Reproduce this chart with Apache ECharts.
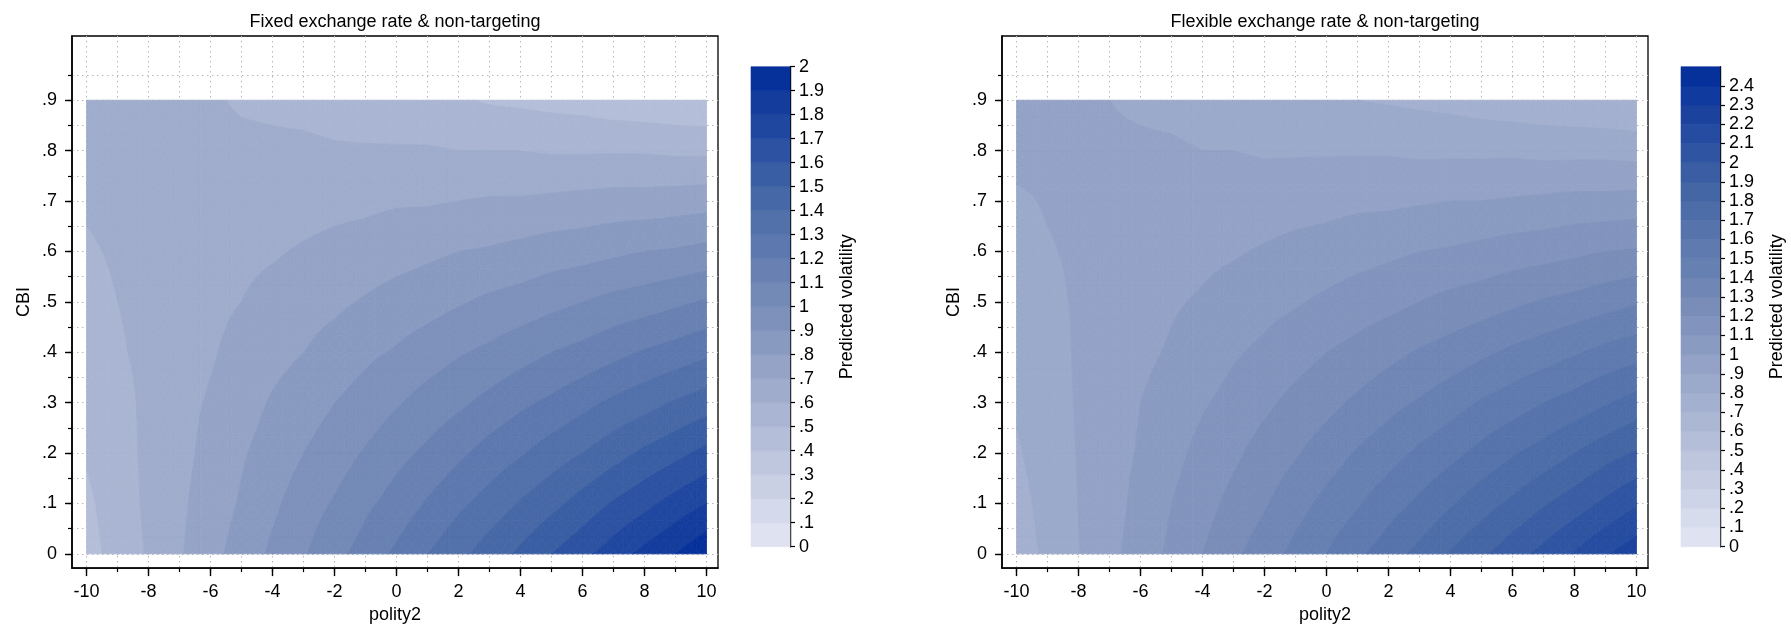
<!DOCTYPE html>
<html>
<head>
<meta charset="utf-8">
<script src="https://cdn.jsdelivr.net/npm/echarts@6/dist/echarts.min.js"></script>
<style>
html,body{margin:0;padding:0;background:#fff;}
#chart{width:1791px;height:629px;}
</style>
</head>
<body>
<div id="chart"></div>
<script>
// ---------------- data ----------------
const polity2 = [-10,-9,-8,-7,-6,-5,-4,-3,-2,-1,0,1,2,3,4,5,6,7,8,9,10];
const cbi = [0,0.1,0.2,0.3,0.4,0.5,0.6,0.7,0.8,0.9];

// rows follow cbi, columns follow polity2
const fixedVolatility = [
  [0.46,0.54,0.61,0.69,0.77,0.84,0.92,0.99,1.07,1.14,1.22,1.30,1.37,1.45,1.52,1.60,1.67,1.75,1.83,1.90,1.98],
  [0.48,0.55,0.62,0.68,0.75,0.81,0.88,0.95,1.01,1.08,1.14,1.21,1.28,1.34,1.41,1.47,1.54,1.61,1.67,1.74,1.80],
  [0.51,0.56,0.62,0.67,0.73,0.79,0.84,0.90,0.95,1.01,1.07,1.12,1.18,1.24,1.29,1.35,1.40,1.46,1.52,1.57,1.63],
  [0.53,0.57,0.62,0.67,0.71,0.76,0.81,0.85,0.90,0.94,0.99,1.04,1.08,1.13,1.18,1.22,1.27,1.32,1.36,1.41,1.45],
  [0.55,0.59,0.62,0.66,0.69,0.73,0.77,0.80,0.84,0.88,0.91,0.95,0.99,1.02,1.06,1.10,1.13,1.17,1.21,1.24,1.28],
  [0.57,0.60,0.62,0.65,0.68,0.70,0.73,0.76,0.78,0.81,0.84,0.86,0.89,0.92,0.94,0.97,1.00,1.03,1.05,1.08,1.11],
  [0.59,0.61,0.63,0.64,0.66,0.68,0.69,0.71,0.73,0.74,0.76,0.78,0.80,0.81,0.83,0.85,0.86,0.88,0.90,0.91,0.93],
  [0.61,0.62,0.63,0.64,0.64,0.65,0.66,0.66,0.67,0.68,0.69,0.69,0.70,0.71,0.71,0.72,0.73,0.74,0.74,0.75,0.76],
  [0.64,0.63,0.63,0.63,0.62,0.62,0.62,0.62,0.61,0.61,0.61,0.61,0.60,0.60,0.60,0.59,0.59,0.59,0.59,0.58,0.58],
  [0.66,0.64,0.63,0.62,0.61,0.59,0.58,0.57,0.56,0.54,0.53,0.52,0.51,0.49,0.48,0.47,0.46,0.44,0.43,0.42,0.41]
];

const flexibleVolatility = [
  [0.75,0.82,0.897,0.97,1.05,1.12,1.20,1.28,1.35,1.43,1.50,1.58,1.65,1.73,1.81,1.88,1.96,2.03,2.11,2.19,2.26],
  [0.77,0.83,0.902,0.96,1.03,1.10,1.16,1.23,1.29,1.36,1.43,1.49,1.56,1.62,1.69,1.76,1.82,1.89,1.95,2.02,2.09],
  [0.79,0.84,0.906,0.96,1.01,1.07,1.13,1.18,1.24,1.29,1.35,1.41,1.46,1.52,1.57,1.63,1.69,1.74,1.80,1.86,1.91],
  [0.81,0.86,0.908,0.95,1.00,1.04,1.09,1.13,1.18,1.23,1.27,1.32,1.37,1.41,1.46,1.51,1.55,1.60,1.64,1.69,1.74],
  [0.83,0.87,0.909,0.94,0.98,1.01,1.05,1.09,1.12,1.16,1.20,1.23,1.27,1.31,1.34,1.38,1.42,1.45,1.49,1.53,1.56],
  [0.85,0.88,0.909,0.93,0.96,0.99,1.01,1.04,1.07,1.09,1.12,1.15,1.17,1.20,1.23,1.25,1.28,1.31,1.33,1.36,1.39],
  [0.88,0.895,0.91,0.93,0.94,0.96,0.98,0.99,1.01,1.03,1.04,1.06,1.08,1.10,1.11,1.13,1.15,1.16,1.18,1.20,1.21],
  [0.89,0.905,0.91,0.92,0.93,0.93,0.94,0.95,0.95,0.96,0.97,0.98,0.98,0.99,1.00,1.00,1.01,1.02,1.03,1.03,1.04],
  [0.92,0.92,0.91,0.91,0.91,0.91,0.90,0.90,0.89,0.89,0.89,0.89,0.89,0.88,0.88,0.88,0.88,0.87,0.87,0.87,0.86],
  [0.94,0.93,0.92,0.90,0.89,0.88,0.87,0.85,0.84,0.83,0.82,0.80,0.79,0.78,0.77,0.75,0.74,0.73,0.72,0.71,0.70]
];

// contour cut levels (legend)
const fixedLevels = [0,0.1,0.2,0.3,0.4,0.5,0.6,0.7,0.8,0.9,1,1.1,1.2,1.3,1.4,1.5,1.6,1.7,1.8,1.9,2];
const flexibleLevels = [0,0.1,0.2,0.3,0.4,0.5,0.6,0.7,0.8,0.9,1,1.1,1.2,1.3,1.4,1.5,1.6,1.7,1.8,1.9,2,2.1,2.2,2.3,2.4,2.5];
const flexibleLegendTicks = [0,0.1,0.2,0.3,0.4,0.5,0.6,0.7,0.8,0.9,1,1.1,1.2,1.3,1.4,1.5,1.6,1.7,1.8,1.9,2,2.1,2.2,2.3,2.4];

// axis ticks
const xMajorTicks = [-10,-8,-6,-4,-2,0,2,4,6,8,10];
const xMinorTicks = [-10,-9,-8,-7,-6,-5,-4,-3,-2,-1,0,1,2,3,4,5,6,7,8,9,10];
const yMajorTicks = [0,0.1,0.2,0.3,0.4,0.5,0.6,0.7,0.8,0.9];
const yMinorTicks = [0,0.05,0.1,0.15,0.2,0.25,0.3,0.35,0.4,0.45,0.5,0.55,0.6,0.65,0.7,0.75,0.8,0.85,0.9,0.95];

const panelTitles = ['Fixed exchange rate & non-targeting', 'Flexible exchange rate & non-targeting'];

// ---------------- styling / helpers ----------------
const FONT = "'Liberation Sans', Arial, Helvetica, sans-serif";
const txt = {fontFamily: FONT, fontSize: 18, color: '#000'};
const ramp = [
  [0,    [223,227,241]],
  [0.25, [172,183,211]],
  [0.5,  [121,141,184]],
  [0.75, [ 68,102,165]],
  [1,    [  6, 49,155]]
];
function rampColor(t) {
  t = Math.max(0, Math.min(1, t));
  for (let i = 1; i < ramp.length; i++) {
    if (t <= ramp[i][0] + 1e-9) {
      const t0 = ramp[i-1][0], c0 = ramp[i-1][1], t1 = ramp[i][0], c1 = ramp[i][1];
      const u = (t - t0) / (t1 - t0);
      return 'rgb(' + c0.map((c, k) => Math.round(c + (c1[k] - c) * u)).join(',') + ')';
    }
  }
  return 'rgb(6,49,155)';
}
function bandColors(n) {
  const out = [];
  for (let k = 0; k < n; k++) out.push(rampColor(n > 1 ? k / (n - 1) : 0));
  return out;
}
function fmt(v) {
  let s = String(+(+v).toFixed(2));
  if (s.indexOf('0.') === 0) s = s.slice(1);
  return s;
}
function clipPoly(poly, lev, above) {
  const out = [];
  const n = poly.length;
  for (let i = 0; i < n; i++) {
    const a = poly[i], b = poly[(i + 1) % n];
    const ia = above ? a[2] >= lev : a[2] <= lev;
    const ib = above ? b[2] >= lev : b[2] <= lev;
    if (ia) out.push(a);
    if (ia !== ib) {
      const t = (lev - a[2]) / (b[2] - a[2]);
      out.push([a[0] + (b[0] - a[0]) * t, a[1] + (b[1] - a[1]) * t, lev]);
    }
  }
  return out;
}

function contourSeries(axisIndex, Z, levels) {
  const nb = levels.length - 1;
  const colors = bandColors(nb);
  function bandOf(v) { let k = 0; while (k < nb - 1 && v >= levels[k + 1]) k++; return k; }
  const cells = [];
  for (let j = 0; j < cbi.length - 1; j++)
    for (let i = 0; i < polity2.length - 1; i++)
      cells.push([(polity2[i] + polity2[i+1]) / 2, (cbi[j] + cbi[j+1]) / 2, i, j]);
  const S = 3;
  return {
    type: 'custom', coordinateSystem: 'cartesian2d',
    xAxisIndex: axisIndex, yAxisIndex: axisIndex,
    encode: {x: 0, y: 1}, silent: true, animation: false, z: 2,
    data: cells,
    renderItem: function (params, api) {
      const i = api.value(2), j = api.value(3);
      const x0 = polity2[i], x1 = polity2[i+1], y0 = cbi[j], y1 = cbi[j+1];
      const v00 = Z[j][i], v10 = Z[j][i+1], v01 = Z[j+1][i], v11 = Z[j+1][i+1];
      const pt = function (u, w) {
        const v = v00*(1-u)*(1-w) + v10*u*(1-w) + v01*(1-u)*w + v11*u*w;
        const c = api.coord([x0 + (x1 - x0) * u, y0 + (y1 - y0) * w]);
        return [c[0], c[1], v];
      };
      const children = [];
      for (let a = 0; a < S; a++) {
        for (let b = 0; b < S; b++) {
          const p00 = pt(a/S, b/S), p10 = pt((a+1)/S, b/S), p11 = pt((a+1)/S, (b+1)/S), p01 = pt(a/S, (b+1)/S);
          const pc = pt((a+0.5)/S, (b+0.5)/S);
          const tris = [[p00,p10,pc],[p10,p11,pc],[p11,p01,pc],[p01,p00,pc]];
          for (const tri of tris) {
            const vmin = Math.min(tri[0][2], tri[1][2], tri[2][2]);
            const vmax = Math.max(tri[0][2], tri[1][2], tri[2][2]);
            const k0 = bandOf(vmin), k1 = bandOf(vmax);
            for (let k = k0; k <= k1; k++) {
              let poly = tri;
              if (k > 0) poly = clipPoly(poly, levels[k], true);
              if (poly.length >= 3 && k < nb - 1) poly = clipPoly(poly, levels[k+1], false);
              if (poly.length >= 3) {
                children.push({
                  type: 'polygon',
                  shape: {points: poly.map(p => [p[0], p[1]])},
                  style: {fill: colors[k], stroke: colors[k], lineWidth: 0.8}
                });
              }
            }
          }
        }
      }
      return {type: 'group', children: children};
    }
  };
}

function colorbarSeries(axisIndex, levels) {
  const nb = levels.length - 1;
  const colors = bandColors(nb);
  const data = [];
  for (let k = 0; k < nb; k++) data.push([0.5, (levels[k] + levels[k+1]) / 2, k]);
  return {
    type: 'custom', coordinateSystem: 'cartesian2d',
    xAxisIndex: axisIndex, yAxisIndex: axisIndex,
    encode: {x: 0, y: 1}, silent: true, animation: false,
    data: data,
    renderItem: function (params, api) {
      const k = api.value(2);
      const a = api.coord([0, levels[k]]), b = api.coord([1, levels[k+1]]);
      return {
        type: 'rect',
        shape: {x: a[0], y: b[1], width: b[0] - a[0], height: a[1] - b[1]},
        style: {fill: colors[k], stroke: colors[k], lineWidth: 0.6}
      };
    }
  };
}

const XMIN = -10.47, XMAX = 10.37, YMIN = -0.0283, YMAX = 1.0273;
const gridLine = {show: true, lineStyle: {color: '#b8b8b8', width: 1, type: [1.5, 3.5]}};

function plotXAxes(gi) {
  return [
    {type: 'value', gridIndex: gi, min: XMIN, max: XMAX, position: 'bottom',
     axisLine: {show: true, onZero: false, lineStyle: {color: '#000', width: 1.6}},
     axisTick: {show: true, customValues: xMajorTicks, length: 8, lineStyle: {color: '#000', width: 1.4}},
     axisLabel: Object.assign({show: true, customValues: xMajorTicks, margin: 15}, txt),
     splitLine: {show: false},
     name: 'polity2', nameLocation: 'middle', nameGap: 33, nameTextStyle: txt},
    {type: 'value', gridIndex: gi, min: XMIN, max: XMAX, position: 'bottom',
     axisLine: {show: false, onZero: false},
     axisTick: {show: true, customValues: xMinorTicks, length: 4, lineStyle: {color: '#000', width: 1.2}},
     axisLabel: {show: false},
     splitLine: gridLine}
  ];
}
function plotYAxes(gi) {
  return [
    {type: 'value', gridIndex: gi, min: YMIN, max: YMAX, position: 'left',
     axisLine: {show: true, onZero: false, lineStyle: {color: '#000', width: 1.6}},
     axisTick: {show: true, customValues: yMajorTicks, length: 7, lineStyle: {color: '#000', width: 1.4}},
     axisLabel: Object.assign({show: true, customValues: yMajorTicks, margin: 15, formatter: fmt}, txt),
     splitLine: {show: false},
     name: 'CBI', nameLocation: 'middle', nameGap: 39, nameRotate: 90, nameTextStyle: txt},
    {type: 'value', gridIndex: gi, min: YMIN, max: YMAX, position: 'left',
     axisLine: {show: false, onZero: false},
     axisTick: {show: true, customValues: yMinorTicks, length: 4, lineStyle: {color: '#000', width: 1.2}},
     axisLabel: {show: false},
     splitLine: gridLine}
  ];
}

const chart = echarts.init(document.getElementById('chart'), null, {renderer: 'canvas'});
const frame = {show: true, borderColor: '#000', borderWidth: 1.3, backgroundColor: 'transparent', containLabel: false};

const option = {
  backgroundColor: '#fff',
  animation: false,
  grid: [
    Object.assign({left: 72, top: 36, width: 646, height: 536.7}, frame),
    Object.assign({left: 1002, top: 36, width: 646, height: 536.7}, frame),
    {left: 751, top: 66.7, width: 39, height: 480, show: false},
    {left: 1681, top: 66.7, width: 39, height: 480, show: false}
  ],
  xAxis: [].concat(
    plotXAxes(0), plotXAxes(1),
    [{type: 'value', gridIndex: 2, min: 0, max: 1, show: false},
     {type: 'value', gridIndex: 3, min: 0, max: 1, show: false}]
  ),
  yAxis: [].concat(
    plotYAxes(0), plotYAxes(1),
    [{type: 'value', gridIndex: 2, min: 0, max: 2, interval: 0.1, position: 'right',
      axisLine: {show: true, onZero: false, lineStyle: {color: '#000', width: 1.4}},
      axisTick: {show: true, length: 5, lineStyle: {color: '#000', width: 1.2}},
      axisLabel: Object.assign({show: true, margin: 9, formatter: fmt}, txt),
      splitLine: {show: false},
      name: 'Predicted volatility', nameLocation: 'middle', nameGap: 48, nameRotate: 90, nameTextStyle: txt},
     {type: 'value', gridIndex: 3, min: 0, max: 2.5, position: 'right',
      axisLine: {show: true, onZero: false, lineStyle: {color: '#000', width: 1.4}},
      axisTick: {show: true, customValues: flexibleLegendTicks, length: 5, lineStyle: {color: '#000', width: 1.2}},
      axisLabel: Object.assign({show: true, customValues: flexibleLegendTicks, margin: 9, formatter: fmt}, txt),
      splitLine: {show: false},
      name: 'Predicted volatility', nameLocation: 'middle', nameGap: 48, nameRotate: 90, nameTextStyle: txt}]
  ),
  graphic: [
    {type: 'text', x: 395, y: 22, silent: true,
     style: {text: panelTitles[0], fontFamily: FONT, fontSize: 18, fill: '#000', align: 'center', verticalAlign: 'middle', textAlign: 'center', textVerticalAlign: 'middle'}},
    {type: 'text', x: 1325, y: 22, silent: true,
     style: {text: panelTitles[1], fontFamily: FONT, fontSize: 18, fill: '#000', align: 'center', verticalAlign: 'middle', textAlign: 'center', textVerticalAlign: 'middle'}}
  ],
  series: [
    contourSeries(0, fixedVolatility, fixedLevels),
    contourSeries(2, flexibleVolatility, flexibleLevels),
    colorbarSeries(4, fixedLevels),
    colorbarSeries(5, flexibleLevels)
  ]
};
chart.setOption(option);
</script>
</body>
</html>
